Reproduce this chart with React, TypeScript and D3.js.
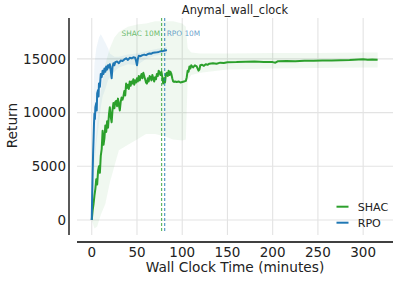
import React from 'react';
import * as d3 from 'd3';

// SHAC mean return vs wall clock minutes
const shacT = [0, 1, 2, 3, 4, 5, 6, 7, 8, 9, 10, 11, 12, 13, 14, 15, 16, 17, 18, 19, 20, 21, 22, 23, 24, 25, 26, 27, 28, 29, 30, 31, 32, 33, 34, 35, 36, 37, 38, 39, 40, 41, 42, 43, 44, 45, 46, 47, 48, 49, 50, 51, 52, 53, 54, 55, 56, 57, 58, 59, 60, 61, 62, 63, 64, 65, 66, 67, 68, 69, 70, 71, 72, 73, 74, 75, 76, 77, 78, 79, 80, 81, 82, 83, 84, 85, 86, 87, 88, 89, 90, 91, 92, 94, 96, 98, 100, 102, 104, 105, 106, 107, 108, 109, 110, 112, 114, 116, 118, 119, 120, 122, 124, 126, 128, 130, 134, 138, 142, 146, 150, 160, 170, 180, 190, 200, 203, 206, 215, 225, 235, 245, 255, 265, 275, 285, 295, 300, 305, 310, 316];
const shacV = [0, 900, 1500, 2300, 2900, 3800, 3300, 4600, 5000, 4400, 6000, 6600, 8300, 7000, 7600, 8800, 8200, 9200, 8600, 9800, 10500, 9600, 9100, 10300, 10900, 10400, 11000, 11100, 10600, 11300, 10700, 10200, 11000, 11400, 11200, 11500, 12000, 11600, 12700, 12300, 12600, 12200, 12900, 12500, 12900, 12700, 13100, 12600, 13000, 12800, 13200, 12900, 13400, 13000, 13300, 13600, 13200, 13700, 13400, 13100, 12800, 12700, 13200, 12900, 13400, 13300, 13000, 13500, 13200, 12900, 13300, 13100, 13600, 13400, 13900, 13700, 13500, 13800, 13300, 12700, 13200, 12800, 13600, 13700, 13400, 13900, 13500, 13800, 13600, 13200, 12900, 12850, 12900, 12850, 12900, 12800, 12850, 12900, 12950, 13300, 13900, 13800, 14300, 14100, 14400, 14200, 14400, 14300, 13900, 14000, 14400, 14450, 14350, 14500, 14450, 14550, 14600, 14550, 14650, 14620, 14680, 14700, 14740, 14760, 14720, 14700, 14640, 14780, 14800, 14790, 14820, 14830, 14850, 14860, 14880, 14900, 14940, 14960, 14930, 14940, 14930];

// SHAC min / max band
const shacBandT = [0, 3, 6, 10, 15, 20, 25, 30, 40, 50, 60, 70, 80, 90, 100, 104, 106, 110, 120, 150, 200, 250, 300, 316];
const shacLo = [0, -800, -600, 500, 1500, 3500, 5000, 6500, 7000, 7500, 8000, 8000, 7800, 7500, 7400, 7500, 13000, 13500, 13700, 14000, 14100, 14150, 14200, 14200];
const shacHi = [0, 6000, 9000, 12000, 14500, 16000, 17000, 17500, 18000, 18200, 18300, 18500, 18500, 18500, 18300, 18000, 16000, 15600, 15500, 15500, 15550, 15550, 15600, 15600];

// RPO mean return
const rpoT = [0, 0.5, 1, 1.5, 2, 2.5, 3, 3.5, 4, 5, 5.5, 6, 7, 7.5, 8, 9, 10, 11, 12, 13, 14, 15, 16, 17, 18, 19, 20, 21, 22, 23, 24, 25, 26, 28, 30, 32, 34, 36, 38, 40, 42, 44, 46, 48, 49, 50, 51, 52, 54, 56, 58, 60, 62, 64, 66, 68, 70, 72, 74, 76, 78, 80, 82, 83];
const rpoV = [0, 2500, 4400, 6200, 7500, 9000, 9900, 9400, 10500, 10900, 10200, 11800, 12100, 11500, 12700, 12400, 13600, 13300, 13900, 13600, 14100, 13800, 14300, 14000, 14400, 14200, 14500, 13900, 13200, 14300, 14600, 14400, 14700, 14750, 14600, 14850, 14800, 14950, 15050, 14900, 15100, 15050, 15150, 15100, 14800, 14400, 15000, 15300, 15250, 15350, 15400, 15350, 15450, 15500, 15480, 15580, 15600, 15620, 15650, 15700, 15720, 15760, 15800, 15830];

// RPO band
const rpoBandT = [0, 1, 2, 3, 5, 8, 10, 12, 15, 18, 20, 25, 30, 40, 50, 60, 70, 83];
const rpoLo = [0, 1500, 3000, 5000, 7000, 9000, 10500, 11500, 12200, 13000, 13300, 13800, 14200, 14500, 14400, 15000, 15300, 15500];
const rpoHi = [0, 7000, 12000, 14500, 16000, 17000, 17300, 17000, 16500, 16000, 15500, 15200, 15200, 15400, 15500, 15700, 15900, 16100];

const xTicks = [0, 50, 100, 150, 200, 250, 300];
const yTicks = [0, 5000, 10000, 15000];
const markers = [
  { label: 'SHAC 10M', t: 77.2, color: '#2ca02c', side: 'left' },
  { label: 'RPO 10M', t: 80.6, color: '#1f77b4', side: 'right' },
];
const legendItems = [
  { name: 'SHAC', color: '#2ca02c' },
  { name: 'RPO', color: '#1f77b4' },
];

const W = 399;
const H = 281;
const font = 'DejaVu Sans, sans-serif';

export default function App() {
  const x = d3.scaleLinear().domain([-16.3, 333]).range([77, 393]);
  const y = d3.scaleLinear().domain([-1396, 18806]).range([235, 18]);
  const [x0, x1] = x.range();
  const [yb, yt] = y.range();

  const line = d3.line<[number, number]>().x(d => x(d[0])).y(d => y(d[1]));

  const band = (t: number[], lo: number[], hi: number[]) =>
    d3.area<number>()
      .x((_, i) => x(t[i]))
      .y0((_, i) => y(lo[i]))
      .y1((_, i) => y(hi[i]))(t) || '';

  const shacPts = shacT.map((t, i) => [t, shacV[i]] as [number, number]);
  const rpoPts = rpoT.map((t, i) => [t, rpoV[i]] as [number, number]);

  return (
    <svg width={W} height={H} style={{ position: 'absolute', left: 0, top: 0, background: '#fff' }} fontFamily={font}>
      {/* grid */}
      {xTicks.map(t => (
        <line key={'gx' + t} x1={x(t)} x2={x(t)} y1={yt} y2={yb} stroke="#e3e3e3" strokeWidth={1.1} />
      ))}
      {yTicks.map(v => (
        <line key={'gy' + v} x1={x0} x2={x1} y1={y(v)} y2={y(v)} stroke="#e3e3e3" strokeWidth={1.1} />
      ))}

      {/* bands */}
      <path d={band(shacBandT, shacLo, shacHi)} fill="#2ca02c" fillOpacity={0.07} />
      <path d={band(rpoBandT, rpoLo, rpoHi)} fill="#1f77b4" fillOpacity={0.07} />

      {/* mean lines */}
      <path d={line(shacPts) || ''} fill="none" stroke="#2ca02c" strokeWidth={2} strokeLinejoin="round" />
      <path d={line(rpoPts) || ''} fill="none" stroke="#1f77b4" strokeWidth={2} strokeLinejoin="round" />

      {/* 10M markers */}
      {markers.map(m => (
        <g key={m.label}>
          <line x1={x(m.t)} x2={x(m.t)} y1={yt} y2={yb - 2} stroke={m.color} strokeOpacity={0.75} strokeWidth={1.2} strokeDasharray="3,2" />
          <text
            x={m.side === 'left' ? x(m.t) - 1.5 : x(m.t) + 2}
            y={33}
            dy="0.35em"
            fontSize={7.4}
            fill={m.color}
            fillOpacity={0.7}
            textAnchor={m.side === 'left' ? 'end' : 'start'}
          >
            {m.label}
          </text>
        </g>
      ))}

      {/* spines */}
      <line x1={69} x2={69} y1={yt} y2={yb} stroke="#000" strokeWidth={1.3} />
      <line x1={x0} x2={x1} y1={242} y2={242} stroke="#000" strokeWidth={1.3} />

      {/* tick labels */}
      {yTicks.map(v => (
        <text key={'ty' + v} x={66} y={y(v)} dy="0.36em" textAnchor="end" fontSize={13.5} fill="#222">
          {v}
        </text>
      ))}
      {xTicks.map(t => (
        <text key={'tx' + t} x={x(t)} y={256.7} textAnchor="middle" fontSize={13.5} fill="#222">
          {t}
        </text>
      ))}

      {/* labels */}
      <text x={235} y={272} textAnchor="middle" fontSize={13.7} fill="#222">Wall Clock Time (minutes)</text>
      <text transform="translate(16.7,125.6) rotate(-90)" textAnchor="middle" fontSize={13.7} fill="#222">Return</text>
      <text x={235} y={14} textAnchor="middle" fontSize={11.4} fill="#222">Anymal_wall_clock</text>

      {/* legend */}
      {legendItems.map((it, i) => (
        <g key={it.name} transform={`translate(0,${206.7 + i * 16})`}>
          <line x1={336.5} x2={348.5} y1={0} y2={0} stroke={it.color} strokeWidth={2} />
          <text x={357.7} y={0} dy="0.36em" fontSize={11.1} fill="#222">{it.name}</text>
        </g>
      ))}
    </svg>
  );
}
